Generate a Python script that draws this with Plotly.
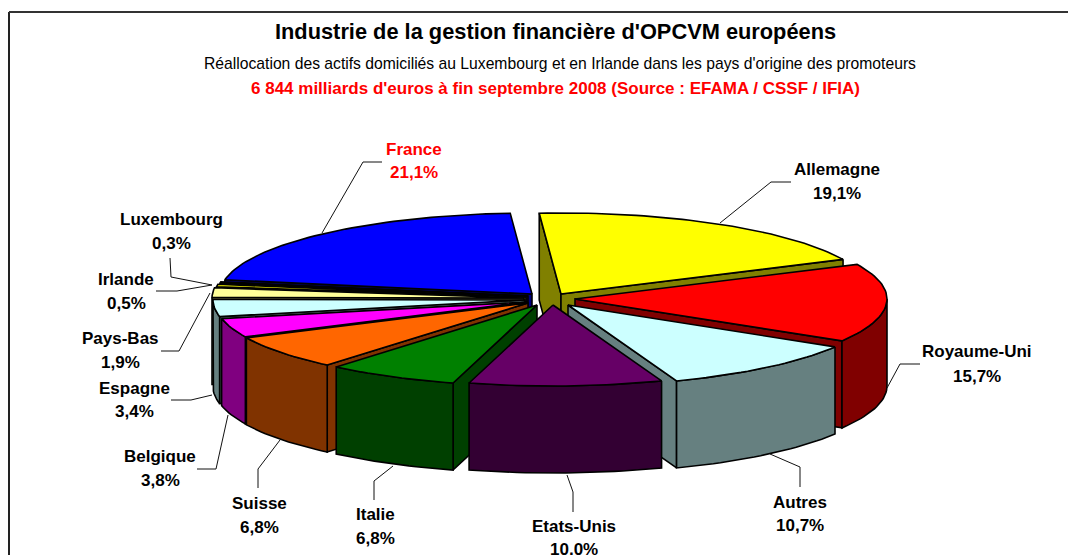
import math
import plotly.graph_objects as go

# Data
categories = ["Allemagne", "Royaume-Uni", "Autres", "Etats-Unis", "Italie", "Suisse",
              "Belgique", "Espagne", "Pays-Bas", "Irlande", "Luxembourg", "France"]
values = [19.1, 15.7, 10.7, 10.0, 6.8, 6.8, 3.8, 3.4, 1.9, 0.5, 0.3, 21.1]

# Styles
top_colors = ["#FFFF00", "#FF0000", "#CCFFFF", "#660066", "#008000", "#FF6600",
              "#FF00FF", "#CCFFFF", "#FFFF99", "#FFFF00", "#000080", "#0000FF"]
wall_colors = ["#808000", "#800000", "#668080", "#330033", "#004000", "#803300",
               "#800080", "#668080", "#80804C", "#808000", "#000040", "#000080"]
label_colors = ["#000000"] * 11 + ["#FF0000"]
explode_dx = [24, 38, 31, 16, 0, -9, -10, -12, -13, -11, -9, -5]
explode_dy = [-5, 0, 6, 6, 6, 4, 3, 1, -1, -2, -3, -5]
label_x = [837, 977, 800, 574, 375, 259, 160, 134, 120, 126, 171, 414]
label_y1 = [169, 351, 502, 526, 514, 503, 456, 388, 338, 279, 219, 149]
label_y2 = [193, 376, 525, 549, 538, 527, 480, 411, 362, 303, 243, 172]
leaders = [
    [(720, 223), (771, 182), (791, 182)],
    [(887, 388), (900, 364), (920, 364)],
    [(770, 454), (800, 467), (800, 487)],
    [(567, 475), (573, 492), (573, 512)],
    [(393, 466), (374, 481), (374, 500)],
    [(280, 440), (258, 469), (258, 488)],
    [(228, 415), (216, 469), (197, 469)],
    [(212, 395), (191, 400), (171, 400)],
    [(210, 293), (179, 351), (161, 351)],
    [(212, 285), (177, 291), (156, 291)],
    [(212, 285), (171, 277), (170, 258)],
    [(322, 233), (363, 162), (382, 162)],
]

CX, CY, RX, RY, DEPTH, START = 537, 299, 312, 81, 87, -4.0
FONT = "Liberation Sans, Arial, sans-serif"
total = sum(values)


def pt(ax, ay, deg):
    a = math.radians(deg)
    return ax + RX * math.sin(a), ay - RY * math.cos(a)


def poly(points, fill):
    xs = [p[0] for p in points] + [points[0][0]]
    ys = [p[1] for p in points] + [points[0][1]]
    return go.Scatter(x=xs, y=ys, mode="lines", fill="toself", fillcolor=fill,
                      line=dict(color="#000000", width=1.6), hoverinfo="skip",
                      showlegend=False)


slices = []
angle = START
for i, v in enumerate(values):
    sweep = v / total * 360
    slices.append((i, angle, angle + sweep))
    angle += sweep

# Painter's order: far slices first
slices.sort(key=lambda s: -math.cos(math.radians((s[1] + s[2]) / 2)))

fig = go.Figure()
for i, a0, a1 in slices:
    ax, ay = CX + explode_dx[i], CY + explode_dy[i]
    n = max(2, int((a1 - a0) / 1.5) + 2)
    arc_angles = [a0 + (a1 - a0) * k / (n - 1) for k in range(n)]
    arc = [pt(ax, ay, t) for t in arc_angles]

    # radial walls, only those facing the viewer
    if math.sin(math.radians(a0)) < 0:
        p = arc[0]
        fig.add_trace(poly([p, (ax, ay), (ax, ay + DEPTH), (p[0], p[1] + DEPTH)], wall_colors[i]))
    if math.sin(math.radians(a1)) > 0:
        p = arc[-1]
        fig.add_trace(poly([p, (ax, ay), (ax, ay + DEPTH), (p[0], p[1] + DEPTH)], wall_colors[i]))

    # outer wall for the part of the rim on the front half
    lo, hi = max(a0, 90), min(a1, 270)
    if hi > lo:
        m = max(2, int((hi - lo) / 1.5) + 2)
        rim = [pt(ax, ay, lo + (hi - lo) * k / (m - 1)) for k in range(m)]
        fig.add_trace(poly(rim + [(x, y + DEPTH) for x, y in reversed(rim)], wall_colors[i]))

    # top face
    fig.add_trace(poly([(ax, ay)] + arc, top_colors[i]))

shapes = [
    dict(type="line", x0=9, y0=12, x1=9, y1=555, line=dict(color="#222222", width=2)),
    dict(type="line", x0=9, y0=12, x1=1068, y1=12, line=dict(color="#333333", width=2)),
]
for pts in leaders:
    path = "M " + " L ".join(f"{x} {y}" for x, y in pts)
    shapes.append(dict(type="path", path=path, line=dict(color="#111111", width=1)))

annotations = []


def text(x, y, s, size, color="#000000", bold=True):
    annotations.append(dict(x=x, y=y, xref="x", yref="y", text=f"<b>{s}</b>" if bold else s,
                            showarrow=False, xanchor="center", yanchor="middle",
                            font=dict(family=FONT, size=size, color=color)))


text(555, 31, "Industrie de la gestion financière d'OPCVM européens", 21.8)
text(560, 63, "Réallocation des actifs domiciliés au Luxembourg et en Irlande dans les pays d'origine des promoteurs", 15.7, bold=False)
text(555, 88, "6 844 milliards d'euros à fin septembre 2008 (Source : EFAMA / CSSF / IFIA)", 17, "#FF0000")
for i, name in enumerate(categories):
    text(label_x[i], label_y1[i], name, 17, label_colors[i])
    text(label_x[i], label_y2[i], f"{values[i]:.1f}%".replace(".", ","), 17, label_colors[i])

fig.update_layout(
    width=1068, height=555, margin=dict(l=0, r=0, t=0, b=0),
    paper_bgcolor="#FFFFFF", plot_bgcolor="#FFFFFF", showlegend=False,
    xaxis=dict(range=[0, 1068], visible=False, fixedrange=True),
    yaxis=dict(range=[555, 0], visible=False, fixedrange=True),
    shapes=shapes, annotations=annotations,
)
fig.write_html("out.html", config={"displayModeBar": False},
               post_script="document.body.style.margin='0';document.body.style.overflow='hidden';")
